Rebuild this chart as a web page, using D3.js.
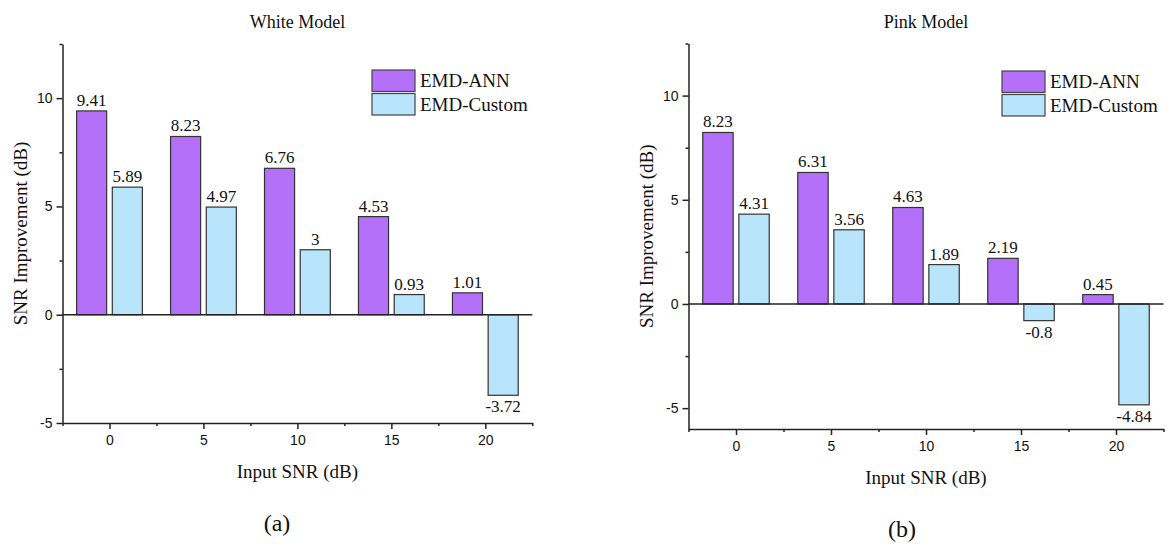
<!DOCTYPE html>
<html>
<head>
<meta charset="utf-8">
<title>SNR improvement bars</title>
<script src="https://cdnjs.cloudflare.com/ajax/libs/d3/7.8.5/d3.min.js"></script>
<style>
  body { margin: 0; background: #fff; }
  .tick text { font-family: "Liberation Sans", Arial, sans-serif; font-size: 14px; fill: #111; }
  .serif { font-family: "Liberation Serif", "Times New Roman", serif; fill: #111; }
</style>
</head>
<body>
<div id="chart"></div>
<script>
// ---------------- data ----------------
var inputSnr = [0, 5, 10, 15, 20];
var seriesNames = ["EMD-ANN", "EMD-Custom"];
var whiteAnn = [9.41, 8.23, 6.76, 4.53, 1.01];
var whiteCustom = [5.89, 4.97, 3, 0.93, -3.72];
var pinkAnn = [8.23, 6.31, 4.63, 2.19, 0.45];
var pinkCustom = [4.31, 3.56, 1.89, -0.8, -4.84];
var yMajor = [-5, 0, 5, 10];
var yMinor = [-2.5, 2.5, 7.5, 12.5];
var xMinor = [-2.5, 2.5, 7.5, 12.5, 17.5, 22.5];

var colors = ["#b570fa", "#b8e4fc"];
var barW = 1.6, barOff = 0.95;   // in x units

var svg = d3.select("#chart").append("svg")
    .attr("width", 1167).attr("height", 545);

// plain hyphen minus like the original figure
function plain(d) { return String(d); }

function drawPanel(p) {
    var x = d3.scaleLinear().domain([-2.5, 22.5]).range([p.left, p.right]);
    var y = d3.scaleLinear().domain(p.yDomain).range([p.bottom, p.top]);
    var g = svg.append("g");

    // bars + value labels
    var series = [p.ann, p.custom];
    series.forEach(function (vals, s) {
        var off = s === 0 ? -barOff : barOff;
        g.selectAll(".b" + s).data(vals).enter().append("rect")
            .attr("x", function (d, i) { return x(inputSnr[i] + off - barW / 2); })
            .attr("width", x(barW) - x(0))
            .attr("y", function (d) { return y(Math.max(0, d)); })
            .attr("height", function (d) { return Math.abs(y(d) - y(0)); })
            .attr("fill", colors[s])
            .attr("stroke", "#333")
            .attr("stroke-width", 1.2);

        g.selectAll(".l" + s).data(vals).enter().append("text")
            .attr("class", "serif")
            .attr("font-size", 17)
            .attr("text-anchor", "middle")
            .attr("x", function (d, i) { return x(inputSnr[i] + off); })
            .attr("y", function (d) { return d >= 0 ? y(d) - 5 : y(d) + 17; })
            .text(plain);
    });

    // zero line
    g.append("line")
        .attr("x1", x(-2.5)).attr("x2", x(22.5))
        .attr("y1", y(0)).attr("y2", y(0))
        .attr("stroke", "#222").attr("stroke-width", 1.5);

    // axes
    g.append("g").attr("transform", "translate(" + p.left + ",0)")
        .call(d3.axisLeft(y).tickValues(yMajor).tickFormat(plain)
            .tickSize(6).tickPadding(4).tickSizeOuter(0));
    g.append("g").attr("transform", "translate(" + p.left + ",0)")
        .call(d3.axisLeft(y).tickValues(yMinor.filter(function (v) { return v >= p.yDomain[0]; }))
            .tickSize(3).tickFormat("").tickSizeOuter(0))
        .select(".domain").remove();
    g.append("g").attr("transform", "translate(0," + p.bottom + ")")
        .call(d3.axisBottom(x).tickValues(inputSnr).tickFormat(plain)
            .tickSize(6).tickPadding(6).tickSizeOuter(0));
    g.append("g").attr("transform", "translate(0," + p.bottom + ")")
        .call(d3.axisBottom(x).tickValues(xMinor).tickSize(3).tickFormat("").tickSizeOuter(0))
        .select(".domain").remove();
    g.selectAll(".domain, .tick line").attr("stroke", "#222").attr("stroke-width", 1.5);

    // titles
    g.append("text").attr("class", "serif").attr("font-size", 18)
        .attr("text-anchor", "middle")
        .attr("x", (p.left + p.right) / 2).attr("y", 28)
        .text(p.title);
    g.append("text").attr("class", "serif").attr("font-size", 19)
        .attr("text-anchor", "middle")
        .attr("x", (p.left + p.right) / 2).attr("y", p.bottom + 55)
        .text("Input SNR (dB)");
    g.append("text").attr("class", "serif").attr("font-size", 19)
        .attr("text-anchor", "middle")
        .attr("transform", "translate(" + (p.left - 36) + "," + ((p.top + p.bottom) / 2) + ") rotate(-90)")
        .text("SNR Improvement (dB)");
    g.append("text").attr("class", "serif").attr("font-size", 24)
        .attr("text-anchor", "middle")
        .attr("x", p.capX).attr("y", p.capY)
        .text(p.caption);

    // legend
    seriesNames.forEach(function (name, s) {
        g.append("rect")
            .attr("x", p.legX).attr("y", p.legY + s * 23.5)
            .attr("width", 43).attr("height", 21.5)
            .attr("fill", colors[s]).attr("stroke", "#444").attr("stroke-width", 1.2);
        g.append("text").attr("class", "serif").attr("font-size", 19)
            .attr("x", p.legX + 48).attr("y", p.legY + s * 23.5 + 17)
            .text(name);
    });
}

drawPanel({
    title: "White Model", caption: "(a)",
    left: 62.5, right: 532.3, top: 44, bottom: 423,
    yDomain: [-5, 12.5], ann: whiteAnn, custom: whiteCustom,
    legX: 372, legY: 70, capX: 277, capY: 531
});
drawPanel({
    title: "Pink Model", caption: "(b)",
    left: 688.5, right: 1163.5, top: 43.5, bottom: 429,
    yDomain: [-6, 12.5], ann: pinkAnn, custom: pinkCustom,
    legX: 1002, legY: 71, capX: 902, capY: 537
});
</script>
</body>
</html>
